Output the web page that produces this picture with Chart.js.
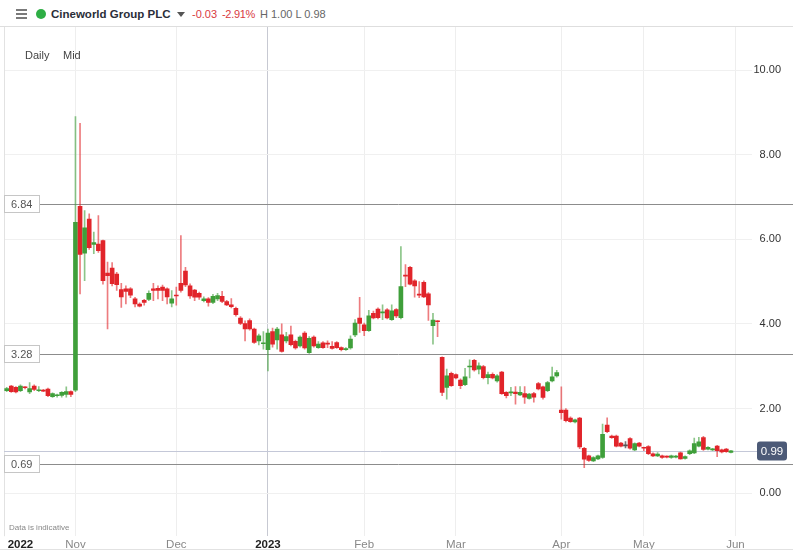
<!DOCTYPE html>
<html>
<head>
<meta charset="utf-8">
<script src="https://cdn.jsdelivr.net/npm/chart.js@4.4.0/dist/chart.umd.min.js"></script>
<style>
  body { margin: 0; width: 793px; height: 554px; overflow: hidden; background: #fff;
         font-family: "Liberation Sans", Arial, sans-serif; }
  #wrap { position: absolute; left: 0; top: 0; width: 793px; height: 554px; }
  #head { position: absolute; left: 0; top: 0; width: 793px; height: 26px; background: #fff;
          border-bottom: 1px solid #dedede; }
  .bar { position: absolute; left: 16px; width: 11px; height: 1.5px; background: #7a7a7a; }
  #dot { position: absolute; left: 36px; top: 9px; width: 10px; height: 10px; border-radius: 50%; background: #2eae45; }
  .ht { position: absolute; top: 7px; line-height: 14px; font-size: 11px; white-space: nowrap; }
  #name { left: 51px; font-weight: bold; color: #2a2e39; font-size: 11.5px; }
  #caret { position: absolute; left: 177px; top: 12px; width: 0; height: 0;
           border-left: 4px solid transparent; border-right: 4px solid transparent; border-top: 5px solid #555; }
  .lab { position: absolute; white-space: nowrap; }
  #foot { position: absolute; left: 0; top: 549px; width: 793px; border-top: 1px solid #e2e2e2; }
</style>
</head>
<body>
<div id="wrap"><canvas id="myChart"></canvas></div>
<div id="head">
  <div class="bar" style="top:9px"></div>
  <div class="bar" style="top:13px"></div>
  <div class="bar" style="top:17px"></div>
  <div id="dot"></div>
  <span class="ht" id="name">Cineworld Group PLC</span>
  <div id="caret"></div>
  <span class="ht" style="left:192px;color:#d93a3f">-0.03</span>
  <span class="ht" style="left:222px;color:#d93a3f;letter-spacing:-0.3px">-2.91%</span>
  <span class="ht" style="left:260px;color:#666">H 1.00 L 0.98</span>
</div>
<span class="lab" style="left:25px;top:49px;font-size:11px;color:#444">Daily</span>
<span class="lab" style="left:63px;top:49px;font-size:11px;color:#444">Mid</span>
<span class="lab" style="left:9px;top:523px;font-size:8px;color:#888">Data is indicative</span>
<div id="foot"></div>
<script>
/*** CANDLE CHART START ***/
/* Daily candles, one per trading day (Oct 2022 - Jun 2023) */
const opens = [2.42, 2.53, 2.50, 2.42, 2.50, 2.39, 2.53, 2.42, 2.43, 2.46, 2.28, 2.30, 2.31, 2.33, 2.40,
  2.43, 6.78, 5.67, 6.48, 5.88, 5.89, 5.97, 5.20, 5.32, 5.18, 4.81, 4.83, 4.83, 4.59, 4.47,
  4.56, 4.58, 4.83, 4.84, 4.87, 4.83, 4.49, 4.68, 4.96, 5.25, 4.90, 4.80, 4.72, 4.55, 4.59,
  4.51, 4.59, 4.65, 4.53, 4.45, 4.37, 4.14, 4.01, 4.08, 3.88, 3.60, 3.53, 3.39, 3.82, 3.62,
  3.74, 3.60, 3.74, 3.59, 3.48, 3.78, 3.32, 3.69, 3.44, 3.55, 3.54, 3.47, 3.56, 3.44, 3.39,
  3.43, 3.74, 4.14, 3.98, 3.84, 4.25, 4.35, 4.26, 4.33, 4.10, 4.34, 4.15, 5.15, 5.34, 5.02,
  4.70, 4.98, 4.71, 3.96, 4.07, 3.21, 2.50, 2.83, 2.80, 2.67, 2.56, 2.98, 3.14, 2.93, 2.99,
  2.73, 2.81, 2.65, 2.86, 2.38, 2.37, 2.39, 2.32, 2.35, 2.24, 2.35, 2.59, 2.51, 2.42, 2.65,
  2.77, 1.96, 1.96, 1.77, 1.68, 1.77, 1.06, 0.88, 0.76, 0.81, 0.84, 1.61, 1.35, 1.35, 1.18,
  1.14, 1.29, 1.02, 1.18, 1.07, 1.10, 0.93, 0.88, 0.88, 0.86, 0.84, 0.85, 0.95, 0.82, 0.93,
  0.95, 1.11, 1.31, 1.04, 1.02, 1.11, 1.02, 1.04, 0.96];
const highs = [2.50, 2.55, 2.52, 2.56, 2.52, 2.61, 2.56, 2.52, 2.45, 2.48, 2.37, 2.34, 2.40, 2.51, 2.42,
  8.90, 8.74, 6.68, 6.60, 6.17, 6.56, 5.98, 5.46, 5.45, 5.22, 4.96, 4.90, 4.86, 4.63, 4.50,
  4.58, 4.78, 4.96, 4.90, 4.92, 4.85, 4.79, 4.87, 6.09, 5.34, 4.95, 4.82, 4.75, 4.64, 4.62,
  4.70, 4.72, 4.77, 4.56, 4.60, 4.40, 4.17, 4.07, 4.12, 3.90, 3.76, 3.82, 3.88, 3.90, 3.92,
  4.00, 3.80, 3.95, 3.62, 3.72, 3.82, 3.70, 3.72, 3.58, 3.58, 3.60, 3.58, 3.58, 3.46, 3.44,
  3.72, 4.10, 4.63, 4.02, 4.32, 4.30, 4.38, 4.45, 4.36, 4.45, 4.36, 5.83, 5.40, 5.36, 5.05,
  5.00, 5.02, 4.74, 4.25, 4.08, 3.22, 2.93, 2.86, 2.82, 2.70, 2.95, 3.15, 3.16, 3.08, 3.02,
  2.86, 2.84, 2.80, 2.88, 2.40, 2.50, 2.52, 2.52, 2.52, 2.36, 2.38, 2.62, 2.53, 2.64, 2.98,
  2.90, 2.51, 2.00, 1.80, 1.75, 1.79, 1.08, 0.90, 0.86, 0.90, 1.63, 1.78, 1.37, 1.37, 1.20,
  1.22, 1.31, 1.19, 1.20, 1.09, 1.12, 0.95, 0.96, 0.90, 0.88, 0.90, 0.89, 0.97, 0.88, 1.02,
  1.30, 1.32, 1.34, 1.10, 1.06, 1.13, 1.04, 1.06, 1.01];
const lows = [2.40, 2.38, 2.37, 2.40, 2.46, 2.35, 2.42, 2.40, 2.40, 2.28, 2.26, 2.27, 2.27, 2.27, 2.28,
  2.40, 4.71, 5.02, 5.76, 5.66, 5.69, 4.94, 3.88, 4.90, 4.79, 4.39, 4.47, 4.62, 4.40, 4.40,
  4.44, 4.55, 4.55, 4.59, 4.55, 4.47, 4.40, 4.44, 4.75, 4.88, 4.60, 4.55, 4.58, 4.52, 4.42,
  4.48, 4.55, 4.50, 4.43, 4.38, 4.18, 3.98, 3.60, 3.85, 3.54, 3.50, 3.40, 2.89, 3.45, 3.40,
  3.33, 3.55, 3.48, 3.40, 3.45, 3.40, 3.30, 3.45, 3.42, 3.42, 3.44, 3.40, 3.42, 3.36, 3.37,
  3.40, 3.70, 3.80, 3.72, 3.82, 4.12, 4.12, 4.10, 4.12, 4.08, 4.15, 4.12, 4.88, 4.92, 4.63,
  4.62, 4.62, 4.08, 3.52, 3.70, 2.30, 2.22, 2.52, 2.70, 2.47, 2.54, 2.72, 2.88, 2.82, 2.70,
  2.58, 2.70, 2.62, 2.33, 2.25, 2.30, 2.10, 2.30, 2.12, 2.22, 2.15, 2.44, 2.22, 2.40, 2.63,
  2.74, 1.75, 1.68, 1.67, 1.66, 1.05, 0.60, 0.75, 0.74, 0.79, 0.82, 1.43, 1.29, 1.09, 1.09,
  1.07, 1.04, 1.00, 1.09, 1.00, 0.91, 0.86, 0.86, 0.82, 0.83, 0.82, 0.83, 0.80, 0.80, 0.91,
  0.93, 1.09, 1.01, 1.02, 1.00, 0.86, 0.95, 0.96, 0.95];
const closes = [2.47, 2.40, 2.39, 2.53, 2.49, 2.47, 2.45, 2.44, 2.41, 2.30, 2.35, 2.32, 2.38, 2.40, 2.33,
  6.40, 5.64, 6.27, 5.80, 5.92, 5.73, 5.02, 5.14, 4.95, 4.93, 4.64, 4.77, 4.68, 4.47, 4.42,
  4.51, 4.72, 4.79, 4.79, 4.79, 4.64, 4.59, 4.66, 4.79, 4.92, 4.66, 4.63, 4.63, 4.59, 4.51,
  4.65, 4.67, 4.53, 4.45, 4.41, 4.22, 4.01, 3.88, 3.88, 3.56, 3.72, 3.55, 3.78, 3.52, 3.88,
  3.35, 3.70, 3.51, 3.43, 3.69, 3.43, 3.66, 3.48, 3.52, 3.44, 3.52, 3.42, 3.44, 3.39, 3.41,
  3.64, 4.02, 4.01, 3.84, 4.19, 4.14, 4.15, 4.28, 4.14, 4.31, 4.19, 4.88, 5.13, 4.94, 4.90,
  4.68, 4.64, 4.45, 4.09, 4.05, 2.38, 2.77, 2.54, 2.72, 2.54, 2.75, 3.00, 2.91, 3.01, 2.73,
  2.80, 2.72, 2.77, 2.35, 2.30, 2.39, 2.35, 2.38, 2.27, 2.34, 2.27, 2.46, 2.26, 2.61, 2.75,
  2.85, 1.90, 1.71, 1.69, 1.73, 1.09, 0.80, 0.77, 0.84, 0.88, 1.39, 1.45, 1.31, 1.11, 1.11,
  1.14, 1.06, 1.17, 1.11, 1.06, 0.93, 0.88, 0.92, 0.84, 0.85, 0.88, 0.87, 0.81, 0.86, 1.00,
  1.17, 1.21, 1.03, 1.08, 1.04, 1.00, 0.97, 0.98, 1.00];

/* Axis ticks: trading-day index where each month / year starts */
const monthStarts = [3, 15, 37, 57, 78, 98, 121, 139, 159];
const tickLabels = ['2022', 'Nov', 'Dec', '2023', 'Feb', 'Mar', 'Apr', 'May', 'Jun'];
const priceTicks = [0, 2, 4, 6, 8, 10];

/* Horizontal levels and last price */
const levelLines = [6.84, 3.28, 0.69];
const lastPrice = 0.99;

const UP = '#3f9f3a', DOWN = '#e1242a', FLAT = '#555555';
const UP_WICK = 'rgba(63,159,58,0.6)', DOWN_WICK = 'rgba(225,36,42,0.6)', FLAT_WICK = 'rgba(60,60,60,0.7)';
const FONT = '"Liberation Sans", Arial, sans-serif';

Chart.defaults.font.family = FONT;

function dir(i) {
    if (closes[i] > opens[i]) return 1;
    if (closes[i] < opens[i]) return -1;
    return 0;
}

var bodies = opens.map((o, i) => ({ x: i, y: [o, closes[i]] }));
var wicks = opens.map((o, i) => ({ x: i, y: [lows[i], highs[i]] }));
var bodyColors = opens.map((o, i) => dir(i) > 0 ? UP : dir(i) < 0 ? DOWN : FLAT);
var wickColors = opens.map((o, i) => dir(i) > 0 ? UP_WICK : dir(i) < 0 ? DOWN_WICK : FLAT_WICK);

// Level lines, left boxes and the last price badge
const overlayPlugin = {
    id: 'overlay',
    beforeDatasetsDraw(chart) {
        const { ctx, chartArea, scales: { y } } = chart;
        ctx.save();
        ctx.lineWidth = 1;
        ctx.strokeStyle = '#e2e2e2';
        ctx.beginPath();
        ctx.moveTo(chartArea.left + 0.5, chartArea.top);
        ctx.lineTo(chartArea.left + 0.5, chartArea.bottom);
        ctx.stroke();

        var py = Math.round(y.getPixelForValue(lastPrice)) + 0.5;
        ctx.strokeStyle = '#c4c8d8';
        ctx.beginPath();
        ctx.moveTo(chartArea.left, py);
        ctx.lineTo(chartArea.right + 5, py);
        ctx.stroke();

        ctx.strokeStyle = '#8c8c8c';
        levelLines.forEach(v => {
            var ly = Math.round(y.getPixelForValue(v)) + 0.5;
            ctx.beginPath();
            ctx.moveTo(chartArea.left, ly);
            ctx.lineTo(chart.width, ly);
            ctx.stroke();
        });
        ctx.restore();
    },
    afterDraw(chart) {
        const { ctx, chartArea, scales: { y } } = chart;
        ctx.save();
        ctx.font = '11px ' + FONT;
        ctx.textBaseline = 'middle';
        levelLines.forEach(v => {
            var ly = Math.round(y.getPixelForValue(v));
            ctx.fillStyle = '#fff';
            ctx.strokeStyle = '#c6c6c6';
            ctx.fillRect(chartArea.left + 0.5, ly - 8.5, 35, 17);
            ctx.strokeRect(chartArea.left + 0.5, ly - 8.5, 35, 17);
            ctx.fillStyle = '#555';
            ctx.textAlign = 'left';
            ctx.fillText(v.toFixed(2), chartArea.left + 7, ly + 0.5);
        });

        var py = Math.round(y.getPixelForValue(lastPrice));
        var bx = chartArea.right + 5;
        ctx.fillStyle = '#4c5a77';
        ctx.beginPath();
        ctx.roundRect(bx, py - 9.5, 30, 19, 3);
        ctx.fill();
        ctx.fillStyle = '#fff';
        ctx.textAlign = 'center';
        ctx.font = '11.5px ' + FONT;
        ctx.fillText(lastPrice.toFixed(2), bx + 15, py + 0.5);
        ctx.restore();
    }
};

var myChart = new Chart(document.getElementById('myChart'), {
    type: 'bar',
    data: {
        datasets: [{
            label: 'Body',
            data: bodies,
            backgroundColor: bodyColors,
            barThickness: 4,
            minBarLength: 1,
            grouped: false
        }, {
            label: 'Wick',
            data: wicks,
            backgroundColor: wickColors,
            barThickness: 1,
            grouped: false
        }]
    },
    options: {
        animation: false,
        responsive: true,
        maintainAspectRatio: false,
        layout: { padding: { left: 4, top: 27, right: 12, bottom: 0 } },
        plugins: {
            legend: { display: false },
            tooltip: { enabled: false }
        },
        scales: {
            x: {
                type: 'linear',
                offset: false,
                min: -0.59,
                max: 162.6,
                afterBuildTicks: scale => { scale.ticks = monthStarts.map(v => ({ value: v })); },
                grid: {
                    offset: false,
                    drawTicks: false,
                    tickLength: 0,
                    color: c => c.index === 0 ? 'rgba(0,0,0,0)' : c.index === 3 ? '#c7c9d2' : '#eeeeee'
                },
                border: { display: false },
                ticks: {
                    autoSkip: false,
                    maxRotation: 0,
                    padding: 2,
                    callback: (v, i) => tickLabels[i],
                    color: c => (c.index === 0 || c.index === 3) ? '#222' : '#888',
                    font: c => ({ size: 11.5, weight: (c.index === 0 || c.index === 3) ? '600' : 'normal' })
                }
            },
            y: {
                position: 'right',
                min: -1.02,
                max: 11.02,
                afterBuildTicks: scale => { scale.ticks = priceTicks.map(v => ({ value: v })); },
                afterFit: scale => { scale.width = 29; },
                grid: { color: '#f0f0f0', drawTicks: false, tickLength: 0 },
                border: { display: false },
                ticks: {
                    crossAlign: 'far',
                    padding: 2,
                    color: '#333',
                    font: { size: 11 },
                    callback: v => v.toFixed(2)
                }
            }
        }
    },
    plugins: [overlayPlugin]
});
/*** CANDLE CHART END ***/
</script>
</body>
</html>
